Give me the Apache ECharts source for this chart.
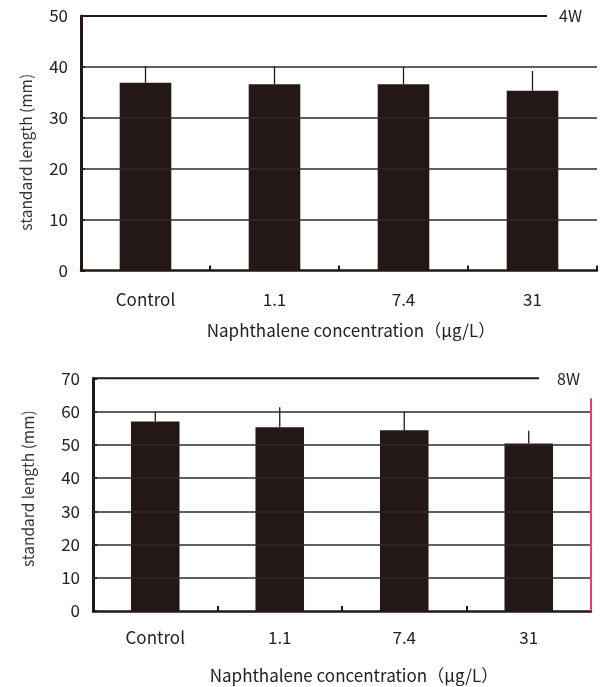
<!DOCTYPE html>
<html>
<head>
<meta charset="utf-8">
<script src="https://cdn.jsdelivr.net/npm/echarts@6/dist/echarts.min.js"></script>
<style>
  html, body { margin: 0; padding: 0; background: #fff; }
  #chart { width: 602px; height: 687px; }
</style>
</head>
<body>
<div id="chart"></div>
<script>
// Standard length of fish after 4 and 8 weeks of naphthalene exposure
const categories = ['Control', '1.1', '7.4', '31'];
const mean4w = [36.9, 36.6, 36.6, 35.3];
const sd4w = [3.3, 3.6, 3.4, 3.9];
const mean8w = [57.0, 55.3, 54.4, 50.4];
const sd8w = [3.0, 6.0, 5.6, 3.8];
const yTicks4w = [0, 10, 20, 30, 40, 50];
const yTicks8w = [0, 10, 20, 30, 40, 50, 60, 70];

const INK = '#231815';
const GRIDLINE = '#2e2a28';
const FONT = '"Noto Sans CJK JP", "Noto Sans", sans-serif';
const xName = 'Naphthalene concentration（μg/L）';
const yName = 'standard length (mm)';

const grids = [
  { left: 81, top: 16, width: 516, height: 254.5, outerBoundsMode: 'none', containLabel: false },
  { left: 93, top: 378.3, width: 498, height: 232.7, outerBoundsMode: 'none', containLabel: false }
];

function yAxisFor(gridIndex, ticks, nameGap, namePad) {
  return {
    type: 'value', gridIndex: gridIndex,
    min: ticks[0], max: ticks[ticks.length - 1], interval: 10,
    name: yName, nameLocation: 'middle', nameGap: nameGap, nameRotate: 90,
    nameTextStyle: { fontFamily: FONT, fontSize: 15.5, color: '#333', padding: namePad },
    axisLine: { show: true, lineStyle: { color: INK, width: 3 } },
    axisTick: { show: true, inside: true, length: 4, lineStyle: { color: INK, width: 2 } },
    axisLabel: { fontFamily: FONT, fontSize: 17, color: '#222', margin: 13 },
    splitLine: { show: false }
  };
}

function xAxisFor(gridIndex, nameGap, labelMargin) {
  return {
    type: 'category', gridIndex: gridIndex, data: categories,
    name: xName, nameLocation: 'middle', nameGap: nameGap,
    nameTextStyle: { fontFamily: FONT, fontSize: 17, color: '#222', padding: [0, 0, 0, 24] },
    axisLine: { show: true, lineStyle: { color: INK, width: 2.5 } },
    axisTick: { show: true, inside: true, length: 5, alignWithLabel: false, lineStyle: { color: INK, width: 2 } },
    axisLabel: { fontFamily: FONT, fontSize: 17, color: '#222', margin: labelMargin },
    splitLine: { show: false }
  };
}

// Horizontal reference lines below the axis maximum
function gridMarkLines(ticks) {
  return {
    silent: true, symbol: 'none', label: { show: false },
    lineStyle: { color: GRIDLINE, width: 1.5, type: 'solid' },
    data: ticks.slice(1, -1).map(v => ({ yAxis: v }))
  };
}

// Upper-only error whiskers
function errorSeries(idx, means, sds) {
  return {
    type: 'custom', xAxisIndex: idx, yAxisIndex: idx, z: 1,
    data: means.map((m, i) => [i, m, m + sds[i]]),
    renderItem: function (params, api) {
      const lo = api.coord([api.value(0), api.value(1)]);
      const hi = api.coord([api.value(0), api.value(2)]);
      return {
        type: 'line',
        shape: { x1: lo[0], y1: lo[1], x2: hi[0], y2: hi[1] },
        style: { stroke: INK, lineWidth: 1.3 }
      };
    }
  };
}

const chart = echarts.init(document.getElementById('chart'), null, { renderer: 'canvas' });
chart.setOption({
  backgroundColor: '#fff',
  animation: false,
  grid: grids,
  xAxis: [xAxisFor(0, 52, 21), xAxisFor(1, 56, 18)],
  yAxis: [yAxisFor(0, yTicks4w, 47, [0, 18, 0, 0]), yAxisFor(1, yTicks8w, 57, [0, 0, 0, 12])],
  series: [
    errorSeries(0, mean4w, sd4w),
    {
      type: 'bar', xAxisIndex: 0, yAxisIndex: 0, data: mean4w, barWidth: '40%', z: 3,
      itemStyle: { color: INK }, markLine: gridMarkLines(yTicks4w)
    },
    errorSeries(1, mean8w, sd8w),
    {
      type: 'bar', xAxisIndex: 1, yAxisIndex: 1, data: mean8w, barWidth: '39%', z: 3,
      itemStyle: { color: INK }, markLine: gridMarkLines(yTicks8w)
    }
  ]
});

// Top frame line, period labels and right-hand edge marker
const top4 = chart.convertToPixel({ yAxisIndex: 0 }, yTicks4w[yTicks4w.length - 1]);
const top8 = chart.convertToPixel({ yAxisIndex: 1 }, yTicks8w[yTicks8w.length - 1]);
const zero8 = chart.convertToPixel({ yAxisIndex: 1 }, 0);
const g0 = grids[0], g1 = grids[1];
chart.setOption({
  graphic: [
    { type: 'line', shape: { x1: g0.left, y1: top4, x2: 547, y2: top4 },
      style: { stroke: INK, lineWidth: 2 }, z: 5 },
    { type: 'text', x: 559, y: top4, style: { text: '4W', font: '16px ' + FONT, fill: '#222', textVerticalAlign: 'middle' }, z: 5 },
    { type: 'line', shape: { x1: g1.left, y1: top8, x2: 539, y2: top8 },
      style: { stroke: INK, lineWidth: 2 }, z: 5 },
    { type: 'text', x: 557, y: top8 + 1, style: { text: '8W', font: '16px ' + FONT, fill: '#222', textVerticalAlign: 'middle' }, z: 5 },
    { type: 'line', shape: { x1: g1.left + g1.width, y1: top8 + 20, x2: g1.left + g1.width, y2: zero8 },
      style: { stroke: '#e2417e', lineWidth: 2 }, z: 6 }
  ]
});
</script>
</body>
</html>
